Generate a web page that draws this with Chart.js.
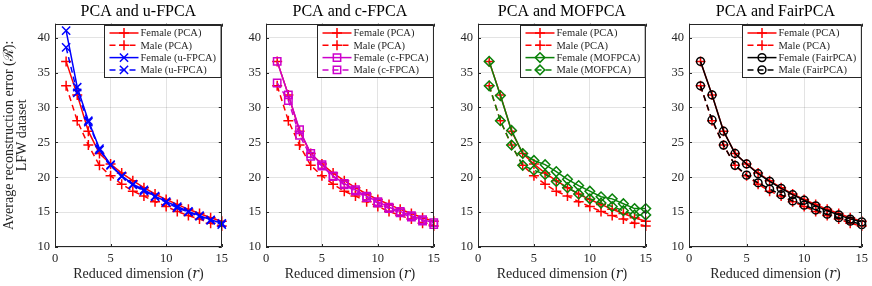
<!DOCTYPE html>
<html>
<head>
<meta charset="utf-8">
<script src="https://cdn.jsdelivr.net/npm/chart.js@4/dist/chart.umd.min.js"></script>
<style>
  body { margin: 0; background: #fff; }
  #wrap { position: relative; width: 872px; height: 286px; }
  canvas { position: absolute; top: 0; }
</style>
</head>
<body>
<div id="wrap">
  <canvas id="c1" width="232" height="286" style="left:0px"></canvas>
  <canvas id="c2" width="208" height="286" style="left:236px"></canvas>
  <canvas id="c3" width="208" height="286" style="left:448px"></canvas>
  <canvas id="c4" width="213" height="286" style="left:659px"></canvas>
</div>
<script>
// reduced dimension r
var dims = [1, 2, 3, 4, 5, 6, 7, 8, 9, 10, 11, 12, 13, 14, 15];
var xTicks = [0, 5, 10, 15];
var yTicks = [10, 15, 20, 25, 30, 35, 40];

// average reconstruction error, LFW dataset
var femalePCA = [36.6, 31.8, 26.6, 23.4, 21.9, 20.6, 19.5, 18.5, 17.6, 16.8, 16.1, 15.4, 14.8, 14.2, 13.7];
var malePCA = [33.1, 28.1, 24.6, 21.7, 20.2, 19.0, 18.0, 17.3, 16.5, 15.8, 15.1, 14.5, 14.0, 13.4, 13.0];
var femaleUFPCA = [41.0, 32.9, 28.1, 24.1, 21.8, 20.2, 19.0, 18.2, 17.3, 16.5, 15.8, 15.1, 14.5, 13.9, 13.4];
var maleUFPCA = [38.6, 32.1, 27.9, 23.9, 21.7, 20.1, 18.9, 18.0, 17.2, 16.4, 15.6, 15.0, 14.4, 13.8, 13.2];
var femaleCFPCA = [36.6, 31.8, 26.8, 23.4, 21.8, 20.2, 19.1, 18.2, 17.3, 16.5, 15.7, 15.1, 14.5, 13.9, 13.5];
var maleCFPCA = [33.5, 31.0, 26.0, 23.0, 21.6, 20.1, 18.9, 18.0, 17.1, 16.3, 15.5, 14.9, 14.3, 13.7, 13.2];
var femaleMOFPCA = [36.6, 31.7, 26.7, 23.4, 22.4, 21.8, 20.8, 19.7, 18.8, 18.0, 17.2, 16.9, 16.2, 15.5, 15.5];
var maleMOFPCA = [33.1, 28.1, 24.6, 21.7, 21.0, 20.4, 19.4, 18.5, 17.6, 16.9, 16.3, 15.8, 15.2, 14.6, 14.6];
var femaleFairPCA = [36.6, 31.8, 26.6, 23.4, 21.9, 20.5, 19.4, 18.4, 17.5, 16.7, 15.9, 15.2, 14.6, 14.0, 13.6];
var maleFairPCA = [33.1, 28.2, 24.6, 21.7, 20.3, 19.2, 18.3, 17.5, 16.6, 16.0, 15.3, 14.7, 14.2, 13.7, 13.2];

var SERIF = "'Liberation Serif', 'DejaVu Serif', serif";
var AXIS = '#262626';

// box + inward ticks like matlab, and the legend in the upper right corner
var boxPlugin = {
  id: 'box',
  afterDatasetsDraw: function(chart) {
    var ctx = chart.ctx, a = chart.chartArea;
    var xs = chart.scales.x, ys = chart.scales.y;
    ctx.save();
    ctx.strokeStyle = AXIS;
    ctx.lineWidth = 1;
    ctx.setLineDash([]);
    ctx.beginPath();
    ctx.rect(Math.round(a.left) + 0.5, Math.round(a.top) + 0.5, Math.round(a.right - a.left) - 1, Math.round(a.bottom - a.top) - 1);
    xs.ticks.forEach(function(t) {
      var px = Math.round(xs.getPixelForValue(t.value)) + 0.5;
      ctx.moveTo(px, a.bottom); ctx.lineTo(px, a.bottom - 3);
      ctx.moveTo(px, a.top); ctx.lineTo(px, a.top + 3);
    });
    ys.ticks.forEach(function(t) {
      var py = Math.round(ys.getPixelForValue(t.value)) + 0.5;
      ctx.moveTo(a.left, py); ctx.lineTo(a.left + 3, py);
      ctx.moveTo(a.right, py); ctx.lineTo(a.right - 3, py);
    });
    ctx.stroke();

    // legend
    var sets = chart.data.datasets;
    ctx.font = '10.5px ' + SERIF;
    var tw = 0;
    sets.forEach(function(d) { tw = Math.max(tw, ctx.measureText(d.label).width); });
    var w = 36 + tw + 5, h = 52;
    var x0 = Math.round(a.right - 1 - w) + 0.5, y0 = Math.round(a.top + 1.5) + 0.5;
    ctx.fillStyle = '#fff';
    ctx.fillRect(x0, y0, w, h);
    ctx.strokeStyle = AXIS;
    ctx.strokeRect(x0, y0, w, h);
    sets.forEach(function(d, i) {
      var cy = y0 + 7.5 + i * 12.3;
      ctx.strokeStyle = d.borderColor;
      ctx.lineWidth = d.borderWidth;
      ctx.setLineDash(d.borderDash || []);
      ctx.beginPath();
      ctx.moveTo(x0 + 5, cy); ctx.lineTo(x0 + 34, cy);
      ctx.stroke();
      ctx.setLineDash([]);
      ctx.fillStyle = 'rgba(0,0,0,0)';
      Chart.helpers.drawPoint(ctx, {pointStyle: d.pointStyle, radius: d.pointRadius, borderWidth: d.pointBorderWidth, rotation: 0}, x0 + 19.5, cy);
      ctx.fillStyle = AXIS;
      ctx.textBaseline = 'middle';
      ctx.textAlign = 'left';
      ctx.fillText(d.label, x0 + 36, cy + 0.5);
    });
    ctx.restore();
  }
};

// plain arrays -> {x,y} points for the linear x axis
function pts(arr) { return arr.map(function(v, i) { return {x: dims[i], y: v}; }); }

function series(label, data, color, dashed, style, radius, order) {
  return {
    label: label,
    data: pts(data),
    borderColor: color,
    backgroundColor: color,
    borderWidth: 1.5,
    borderDash: dashed ? [6, 4] : [],
    pointStyle: style,
    pointRadius: radius,
    pointHoverRadius: radius,
    pointBorderColor: color,
    pointBackgroundColor: 'rgba(0,0,0,0)',
    pointBorderWidth: 1.5,
    tension: 0,
    clip: false,
    order: order
  };
}

function makeChart(id, title, name, color, style, radius, fem, mal, axisW, padRight, showYTitle) {
  return new Chart(document.getElementById(id), {
    type: 'line',
    data: {
      datasets: [
        series('Female (PCA)', femalePCA, '#ff0000', false, 'cross', 5, 1),
        series('Male (PCA)', malePCA, '#ff0000', true, 'cross', 5, 1),
        series('Female (' + name + ')', fem, color, false, style, radius, 0),
        series('Male (' + name + ')', mal, color, true, style, radius, 0)
      ]
    },
    options: {
      responsive: false,
      animation: false,
      layout: {padding: {left: 0, right: padRight, top: 0, bottom: 0}},
      plugins: {
        legend: {display: false},
        tooltip: {enabled: false},
        title: {
          display: true,
          fullSize: false,
          text: title,
          color: '#000',
          font: {family: SERIF, size: 16, weight: 'normal', lineHeight: 1.2},
          padding: {top: 2.5, bottom: 2}
        }
      },
      scales: {
        x: {
          type: 'linear',
          min: 0, max: 15,
          afterBuildTicks: function(s) { s.ticks = xTicks.map(function(v) { return {value: v}; }); },
          afterFit: function(s) { s.height = 39; },
          grid: {color: 'rgba(38,38,38,0.13)', drawTicks: false},
          border: {display: false},
          ticks: {color: AXIS, padding: 4, font: {family: SERIF, size: 12.5}, maxRotation: 0},
          title: {
            display: true,
            text: 'Reduced dimension (\uD835\uDC5F)',
            color: AXIS,
            font: {family: SERIF, size: 14, lineHeight: 1.2},
            padding: {top: 0, bottom: 3}
          }
        },
        y: {
          min: 10, max: 42,
          afterBuildTicks: function(s) { s.ticks = yTicks.map(function(v) { return {value: v}; }); },
          afterFit: function(s) { s.width = axisW; },
          grid: {color: 'rgba(38,38,38,0.13)', drawTicks: false},
          border: {display: false},
          ticks: {color: AXIS, padding: 5, font: {family: SERIF, size: 12.5}},
          title: {
            display: showYTitle,
            text: ['Average reconstruction error (\u211B\u0304):', 'LFW dataset'],
            color: AXIS,
            font: {family: SERIF, size: 14, lineHeight: 0.9},
            padding: {top: 3, bottom: 0}
          }
        }
      }
    },
    plugins: [boxPlugin]
  });
}

makeChart('c1', 'PCA and u-FPCA', 'u-FPCA', '#0000ff', 'crossRot', 5.8, femaleUFPCA, maleUFPCA, 55, 6, true);
makeChart('c2', 'PCA and c-FPCA', 'c-FPCA', '#cc00cc', 'rect', 5.2, femaleCFPCA, maleCFPCA, 30, 6, false);
makeChart('c3', 'PCA and MOFPCA', 'MOFPCA', '#0a820a', 'rectRot', 4.8, femaleMOFPCA, maleMOFPCA, 30, 6, false);
makeChart('c4', 'PCA and FairPCA', 'FairPCA', '#000000', 'circle', 3.9, femaleFairPCA, maleFairPCA, 30, 10, false);
</script>
</body>
</html>
